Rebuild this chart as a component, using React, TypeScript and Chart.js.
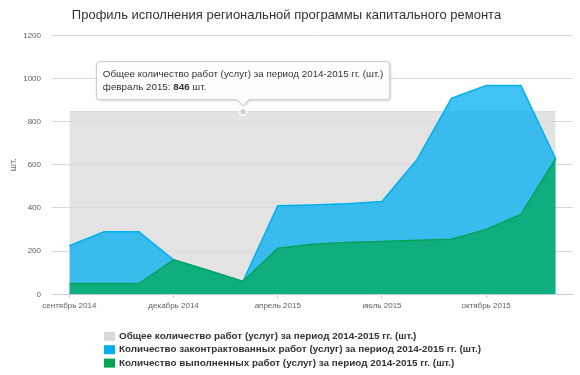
import React, { useEffect, useRef } from 'react';
import { Chart, registerables } from 'chart.js';

Chart.register(...registerables);

const FONT = '"Liberation Sans", Arial, sans-serif';

const TITLE = 'Профиль исполнения региональной программы капитального ремонта';
const UNIT = 'шт.';

const MONTHS = [
  'сентябрь 2014', 'октябрь 2014', 'ноябрь 2014', 'декабрь 2014', 'январь 2015',
  'февраль 2015', 'апрель 2015', 'май 2015', 'июнь 2015', 'июль 2015',
  'август 2015', 'сентябрь 2015', 'октябрь 2015', 'ноябрь 2015', 'декабрь 2015',
];
const TICK_STEP = 3;

const TOTAL_LABEL = 'Общее количество работ (услуг) за период 2014-2015 гг. (шт.)';
const CONTRACTED_LABEL = 'Количество законтрактованных работ (услуг) за период 2014-2015 гг. (шт.)';
const DONE_LABEL = 'Количество выполненных работ (услуг) за период 2014-2015 гг. (шт.)';

const TOTAL = [846, 846, 846, 846, 846, 846, 846, 846, 846, 846, 846, 846, 846, 846, 846];
const CONTRACTED = [225, 290, 290, 160, 110, 60, 410, 414, 420, 430, 622, 908, 967, 967, 628];
const DONE = [50, 50, 50, 160, 110, 60, 213, 232, 240, 245, 250, 255, 300, 370, 628];

const Y_MIN = 0;
const Y_MAX = 1200;
const Y_STEP = 200;

const TOOLTIP_INDEX = 5;

const COLORS = {
  total: '#D9D9D9',
  contracted: '#00AFF0',
  done: '#00A650',
};

const fixedTooltip = {
  id: 'fixedTooltip',
  afterDraw(chart: any) {
    const meta = chart.getDatasetMeta(0);
    const pt = meta.data[TOOLTIP_INDEX];
    if (!pt) return;
    const { ctx } = chart;
    const x = pt.x;
    const y = pt.y;
    ctx.save();
    ctx.beginPath();
    ctx.arc(x, y, 3.5, 0, Math.PI * 2);
    ctx.fillStyle = '#D0D0D0';
    ctx.fill();
    ctx.lineWidth = 1.5;
    ctx.strokeStyle = '#FFFFFF';
    ctx.stroke();

    const fontN = `9.8px ${FONT}`;
    const fontB = `bold 9.8px ${FONT}`;
    const line1 = TOTAL_LABEL;
    const pre = MONTHS[TOOLTIP_INDEX] + ': ';
    const val = String(TOTAL[TOOLTIP_INDEX]);
    const post = ' ' + UNIT;
    ctx.font = fontN;
    const w1 = ctx.measureText(line1).width;
    const wPre = ctx.measureText(pre).width;
    const wPost = ctx.measureText(post).width;
    ctx.font = fontB;
    const wVal = ctx.measureText(val).width;
    const textW = Math.max(w1, wPre + wVal + wPost);
    const padX = 6.5;
    const boxW = textW + padX * 2;
    const boxH = 38;
    const bx = x - boxW / 2;
    const by = y - 12 - boxH;
    const r = 3;
    const notch = 6;

    const path = () => {
      ctx.beginPath();
      ctx.moveTo(bx + r, by);
      ctx.lineTo(bx + boxW - r, by);
      ctx.quadraticCurveTo(bx + boxW, by, bx + boxW, by + r);
      ctx.lineTo(bx + boxW, by + boxH - r);
      ctx.quadraticCurveTo(bx + boxW, by + boxH, bx + boxW - r, by + boxH);
      ctx.lineTo(x + notch, by + boxH);
      ctx.lineTo(x, by + boxH + notch);
      ctx.lineTo(x - notch, by + boxH);
      ctx.lineTo(bx + r, by + boxH);
      ctx.quadraticCurveTo(bx, by + boxH, bx, by + boxH - r);
      ctx.lineTo(bx, by + r);
      ctx.quadraticCurveTo(bx, by, bx + r, by);
      ctx.closePath();
    };

    ctx.save();
    ctx.shadowColor = 'rgba(0,0,0,0.18)';
    ctx.shadowBlur = 3;
    ctx.shadowOffsetX = 1;
    ctx.shadowOffsetY = 1;
    path();
    ctx.fillStyle = 'rgba(255,255,255,0.96)';
    ctx.fill();
    ctx.restore();
    path();
    ctx.lineWidth = 1;
    ctx.strokeStyle = '#C4C4C4';
    ctx.stroke();

    ctx.fillStyle = '#333333';
    ctx.textBaseline = 'middle';
    ctx.textAlign = 'left';
    ctx.font = fontN;
    const tx = bx + padX;
    ctx.fillText(line1, tx, by + 13);
    ctx.fillText(pre, tx, by + 25.5);
    ctx.font = fontB;
    ctx.fillText(val, tx + wPre, by + 25.5);
    ctx.font = fontN;
    ctx.fillText(post, tx + wPre + wVal, by + 25.5);
    ctx.restore();
  },
};

const customLegend = {
  id: 'customLegend',
  afterDraw(chart: any) {
    const { ctx } = chart;
    const items = [
      { label: TOTAL_LABEL, color: COLORS.total },
      { label: CONTRACTED_LABEL, color: COLORS.contracted },
      { label: DONE_LABEL, color: COLORS.done },
    ];
    ctx.save();
    ctx.font = `bold 9.9px ${FONT}`;
    ctx.textBaseline = 'middle';
    ctx.textAlign = 'left';
    const x0 = 104;
    const y0 = chart.chartArea.bottom + 42;
    items.forEach((it, i) => {
      const cy = y0 + i * 13.4;
      ctx.fillStyle = it.color;
      ctx.fillRect(x0, cy - 4.5, 11, 9);
      ctx.fillStyle = '#333333';
      ctx.fillText(it.label, x0 + 15, cy);
    });
    ctx.restore();
  },
};

export default function App() {
  const ref = useRef<HTMLCanvasElement | null>(null);

  useEffect(() => {
    if (!ref.current) return;
    const chart = new Chart(ref.current, {
      type: 'line',
      data: {
        labels: MONTHS,
        datasets: [
          {
            label: TOTAL_LABEL,
            data: TOTAL,
            fill: 'origin',
            backgroundColor: 'rgba(217,217,217,0.75)',
            borderColor: '#D2D2D2',
            borderWidth: 1,
            pointRadius: 0,
            order: 3,
          },
          {
            label: CONTRACTED_LABEL,
            data: CONTRACTED,
            fill: 'origin',
            backgroundColor: 'rgba(0,175,240,0.75)',
            borderColor: '#00AFF0',
            borderWidth: 1.5,
            pointRadius: 0,
            order: 2,
          },
          {
            label: DONE_LABEL,
            data: DONE,
            fill: 'origin',
            backgroundColor: 'rgba(0,170,90,0.75)',
            borderColor: '#06A25C',
            borderWidth: 1.5,
            pointRadius: 0,
            order: 1,
          },
        ],
      },
      options: {
        responsive: false,
        animation: false,
        events: [],
        layout: { padding: { left: 0, right: 7, top: 0, bottom: 0 } },
        plugins: {
          legend: { display: false },
          tooltip: { enabled: false },
          title: {
            display: true,
            text: TITLE,
            color: '#333333',
            font: { size: 13, family: FONT, weight: 'normal' },
            padding: { top: 7.2, bottom: 12.5 },
          },
        },
        scales: {
          x: {
            offset: true,
            ticks: {
              autoSkip: false,
              maxRotation: 0,
              minRotation: 0,
              font: { size: 8, family: FONT },
              color: '#606060',
              padding: 3,
              callback: (_v: any, i: number) => (i % TICK_STEP === 0 ? MONTHS[i] : ''),
            },
            grid: {
              drawOnChartArea: false,
              tickLength: 4,
              color: (c: any) => (c.index % TICK_STEP === 0 ? '#C0D0E0' : 'rgba(0,0,0,0)'),
            },
            border: { color: '#C0D0E0' },
            afterFit: (s: any) => {
              s.height = 80.7;
            },
          },
          y: {
            min: Y_MIN,
            max: Y_MAX,
            ticks: {
              stepSize: Y_STEP,
              font: { size: 8, family: FONT },
              color: '#606060',
              padding: 11,
              callback: (v: any) => String(v),
            },
            grid: { color: '#D8D8D8', drawTicks: false },
            border: { display: false },
            title: {
              display: true,
              text: UNIT,
              color: '#707070',
              font: { size: 9, family: FONT },
              padding: { top: 8, bottom: 0 },
            },
            afterFit: (s: any) => {
              s.width = 52;
            },
          },
        },
      },
      plugins: [fixedTooltip, customLegend],
    } as any);
    return () => chart.destroy();
  }, []);

  return (
    <div style={{ position: 'absolute', left: 0, top: 0, width: 580, height: 375, background: '#fff' }}>
      <canvas ref={ref} width={580} height={375} style={{ display: 'block' }} />
    </div>
  );
}
